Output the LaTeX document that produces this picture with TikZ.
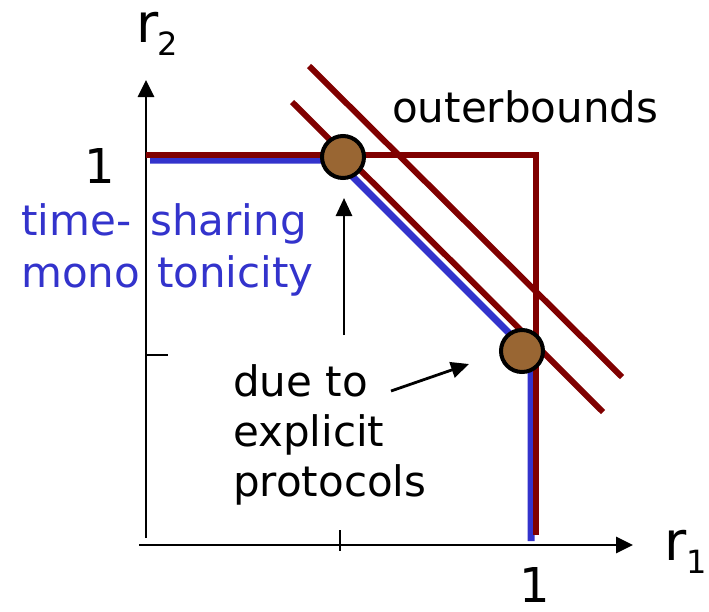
\documentclass[tikz,border=0pt]{standalone}
\usepackage{fontspec}
\setmainfont{DejaVu Sans}
\usetikzlibrary{arrows.meta}
\definecolor{dred}{RGB}{128,0,0}
\definecolor{tsblue}{RGB}{51,51,204}
\definecolor{ptbrown}{RGB}{153,102,51}
\begin{document}
\begin{tikzpicture}[x=1pt,y=-1pt,
  axisline/.style={line width=2.8pt,-{Triangle[length=17pt,width=16pt]}},
  tickline/.style={line width=2.8pt},
  bound/.style={dred,line width=6pt,line join=miter},
  tsline/.style={tsblue,line width=7pt},
  rpoint/.style={circle,draw=black,line width=4pt,fill=ptbrown,minimum size=42pt,inner sep=0pt},
  note/.style={line width=2.8pt,-{Triangle[length=18pt,width=16pt]}},
  txt/.style={inner sep=0pt,anchor=base west,font=\fontsize{42}{50}\selectfont},
  bluetxt/.style={txt,text=tsblue},
  bigtxt/.style={inner sep=0pt,anchor=base west,font=\fontsize{48}{56}\selectfont},
  rtxt/.style={inner sep=0pt,anchor=base west,font=\fontsize{54}{60}\selectfont},
  subtxt/.style={inner sep=0pt,anchor=base west,font=\fontsize{32}{36}\selectfont}]
\useasboundingbox (0,0) rectangle (709,611);
% axes
\coordinate (yb) at (146,538);
\coordinate (yt) at (146,80);
\coordinate (xl) at (139,545);
\coordinate (xr) at (633,545);
\draw[axisline] (yb) -- (yt);
\draw[axisline] (xl) -- (xr);
\coordinate (ytick0) at (146,355);
\coordinate (ytick1) at (168,355);
\draw[tickline] (ytick0) -- (ytick1);
\coordinate (xtick0) at (340,530);
\coordinate (xtick1) at (340,551);
\draw[tickline] (xtick0) -- (xtick1);
% time-sharing region (blue)
\coordinate (b0) at (150,160);
\coordinate (b1) at (336,160);
\coordinate (b2) at (527,351);
\coordinate (b3) at (531,366);
\coordinate (b4) at (531,541);
\draw[tsline] (b0) -- (b1) -- (b2) -- (b3) -- (b4);
% outer bounds (red)
\coordinate (r0) at (146,155);
\coordinate (r1) at (536,155);
\coordinate (r2) at (536,535);
\draw[bound] (r0) -- (r1) -- (r2);
\coordinate (d1a) at (292,102);
\coordinate (d1b) at (603,412);
\draw[bound] (d1a) -- (d1b);
\coordinate (d2a) at (309,66);
\coordinate (d2b) at (622,377);
\draw[bound] (d2a) -- (d2b);
% points
\node[rpoint] (p1) at (343,157) {};
\node[rpoint] (p2) at (522,351) {};
% annotation arrows
\coordinate (a1s) at (344,335);
\coordinate (a1e) at (344,198);
\draw[note] (a1s) -- (a1e);
\coordinate (a2s) at (391,391);
\coordinate (a2e) at (469,364);
\draw[note] (a2s) -- (a2e);
% labels
\node[rtxt] (r2l) at (136,42) {r};
\node[subtxt] (r2s) at (157,55) {2};
\node[rtxt] (r1l) at (664,560) {r};
\node[subtxt] (r1s) at (686,573) {1};
\node[bigtxt] (one1) at (84,183) {1};
\node[bigtxt] (one2) at (519,602) {1};
\node[txt] (ob) at (392,122) {outerbounds};
\node[txt] (due) at (233,396) {due to};
\node[txt] (expl) at (233,446) {explicit};
\node[txt] (prot) at (233,496) {protocols};
\node[bluetxt] (ts1) at (21,235) {time-};
\node[bluetxt] (ts2) at (150,235) {sharing};
\node[bluetxt] (mo1) at (21,287) {mono};
\node[bluetxt] (mo2) at (157,287) {tonicity};
\end{tikzpicture}
\end{document}
